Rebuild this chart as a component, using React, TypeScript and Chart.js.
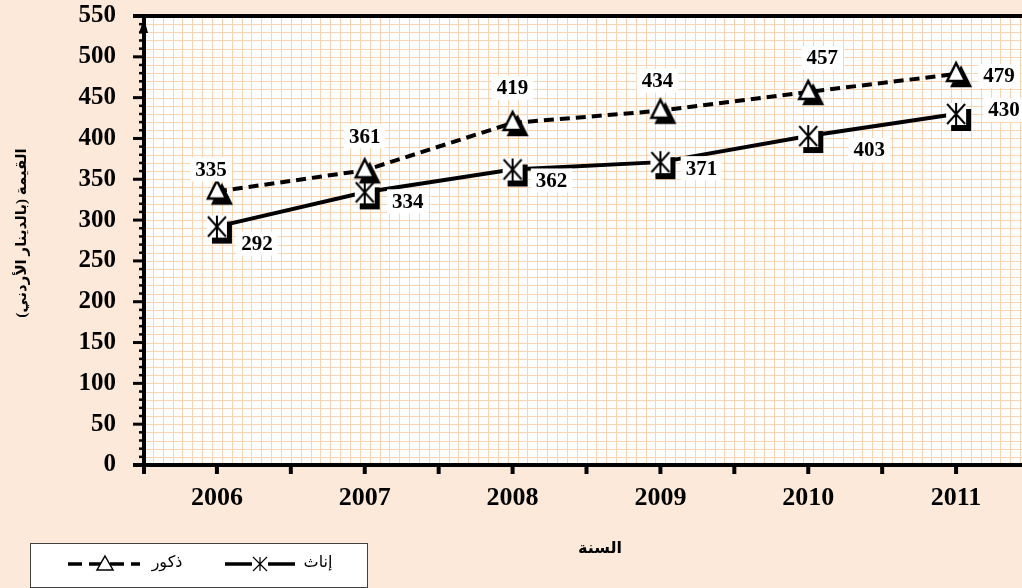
import React, { useEffect, useRef } from 'react';
import { Chart, registerables } from 'chart.js';
Chart.register(...registerables);

const years = ['2006', '2007', '2008', '2009', '2010', '2011'];
const maleValues = [335, 361, 419, 434, 457, 479];
const femaleValues = [292, 334, 362, 371, 403, 430];
const maleLabel = 'ذكور';
const femaleLabel = 'إناث';
const xTitle = 'السنة';
const yTitle = 'القيمة (بالدينار الأردني)';
const yMin = 0;
const yMax = 550;
const yMajorStep = 50;
const yMinorStep = 10;

const FONT = "'Liberation Serif', 'DejaVu Sans', serif";
const ARFONT = "'Liberation Serif', 'DejaVu Sans', serif";
const PEACH = '#FDE9D9';
const GRID = '#FBD4B4';

// label offsets (pixels, style only)
const maleLabelOffsets = [[-6, -22], [0, -34], [0, -35], [-3, -30], [14, -34], [43, 2]];
const femaleLabelOffsets = [[40, 17], [43, 9], [39, 11], [41, 6], [61, 14], [48, -4]];

function makeTriangle(): HTMLCanvasElement {
  const c = document.createElement('canvas');
  c.width = 44; c.height = 44;
  const g = c.getContext('2d')!;
  const cx = 22, cy = 22;
  const tri = (ox: number, oy: number) => {
    g.beginPath();
    g.moveTo(cx + ox, cy - 11 + oy);
    g.lineTo(cx + 9 + ox, cy + 7 + oy);
    g.lineTo(cx - 9 + ox, cy + 7 + oy);
    g.closePath();
  };
  tri(5, 5);
  g.fillStyle = '#000';
  g.fill();
  g.lineWidth = 2.5;
  g.strokeStyle = '#000';
  g.stroke();
  tri(0, 0);
  g.fillStyle = '#fff';
  g.fill();
  g.stroke();
  return c;
}

function makeAsterisk(): HTMLCanvasElement {
  const c = document.createElement('canvas');
  c.width = 44; c.height = 44;
  const g = c.getContext('2d')!;
  const cx = 22, cy = 22;
  g.fillStyle = '#000';
  g.fillRect(cx - 10 + 5, cy - 11 + 6, 20, 22);
  g.fillStyle = '#fff';
  g.fillRect(cx - 10, cy - 11, 20, 22);
  g.strokeStyle = '#000';
  g.lineWidth = 2;
  g.beginPath();
  g.moveTo(cx, cy - 11); g.lineTo(cx, cy + 11);
  g.moveTo(cx - 9, cy - 10); g.lineTo(cx + 9, cy + 10);
  g.moveTo(cx + 9, cy - 10); g.lineTo(cx - 9, cy + 10);
  g.stroke();
  return c;
}

const decorPlugin = {
  id: 'decor',
  beforeDraw(chart: any) {
    const { ctx, chartArea: a, width, height } = chart;
    const xs = chart.scales.x, ys = chart.scales.y;
    ctx.save();
    ctx.fillStyle = PEACH;
    ctx.fillRect(0, 0, width, height);
    ctx.fillStyle = '#fff';
    ctx.fillRect(a.left, a.top, a.right - a.left, a.bottom - a.top);
    ctx.strokeStyle = GRID;
    ctx.lineWidth = 1;
    ctx.beginPath();
    for (let v = yMin; v <= yMax; v += yMinorStep) {
      const py = Math.round(ys.getPixelForValue(v)) + 0.5;
      ctx.moveTo(a.left, py); ctx.lineTo(a.right, py);
    }
    for (let k = 0; ; k++) {
      const v = xs.min + k / 15;
      if (v > xs.max + 1e-6) break;
      const px = Math.round(xs.getPixelForValue(v)) + 0.5;
      ctx.moveTo(px, a.top); ctx.lineTo(px, a.bottom);
    }
    ctx.stroke();
    ctx.restore();
  },
  beforeDatasetsDraw(chart: any) {
    const { ctx, chartArea: a } = chart;
    const xs = chart.scales.x, ys = chart.scales.y;
    ctx.save();
    ctx.strokeStyle = '#000';
    ctx.fillStyle = '#000';
    ctx.lineWidth = 4;
    ctx.beginPath();
    ctx.moveTo(a.left - 10, a.top); ctx.lineTo(a.right, a.top);
    ctx.stroke();
    ctx.beginPath();
    ctx.moveTo(a.left - 10, a.bottom); ctx.lineTo(a.right, a.bottom);
    ctx.stroke();
    ctx.beginPath();
    ctx.moveTo(a.left + 1, a.top); ctx.lineTo(a.left + 1, a.bottom + 8);
    ctx.stroke();
    for (let v = yMin; v <= yMax; v += yMinorStep) {
      const py = ys.getPixelForValue(v);
      if (v % yMajorStep === 0) {
        ctx.lineWidth = 3;
        ctx.beginPath(); ctx.moveTo(a.left - 10, py); ctx.lineTo(a.left, py); ctx.stroke();
      } else {
        ctx.lineWidth = 2.5;
        ctx.beginPath(); ctx.moveTo(a.left - 4, py); ctx.lineTo(a.left, py); ctx.stroke();
      }
    }
    ctx.lineWidth = 4;
    for (let k = 0; ; k++) {
      const v = xs.min + k * 0.5;
      if (v > xs.max + 1e-6) break;
      const px = Math.max(xs.getPixelForValue(v), a.left + 1);
      ctx.beginPath(); ctx.moveTo(px, a.bottom); ctx.lineTo(px, a.bottom + 9); ctx.stroke();
    }
    ctx.beginPath();
    ctx.moveTo(a.left + 1, a.top + 2);
    ctx.lineTo(a.left + 5, a.top + 17);
    ctx.lineTo(a.left - 4, a.top + 17);
    ctx.closePath();
    ctx.fill();
    ctx.restore();
  },
  afterDatasetsDraw(chart: any) {
    const { ctx } = chart;
    ctx.save();
    ctx.font = `bold 21px ${FONT}`;
    ctx.textAlign = 'center';
    ctx.textBaseline = 'middle';
    const drawLabels = (dsIndex: number, values: number[], offs: number[][]) => {
      const meta = chart.getDatasetMeta(dsIndex);
      meta.data.forEach((pt: any, i: number) => {
        const txt = String(values[i]);
        const x = pt.x + offs[i][0];
        const y = pt.y + offs[i][1];
        const w = ctx.measureText(txt).width;
        ctx.fillStyle = '#fff';
        ctx.fillRect(x - w / 2 - 5, y - 12, w + 10, 24);
        ctx.fillStyle = '#000';
        ctx.fillText(txt, x, y + 1);
      });
    };
    drawLabels(0, maleValues, maleLabelOffsets);
    drawLabels(1, femaleValues, femaleLabelOffsets);
    ctx.restore();
  },
  afterDraw(chart: any) {
    const { ctx } = chart;
    ctx.save();
    ctx.fillStyle = '#000';
    ctx.translate(22, 233);
    ctx.rotate(-Math.PI / 2);
    ctx.direction = 'rtl';
    ctx.textAlign = 'center';
    ctx.textBaseline = 'middle';
    ctx.font = `bold 15px ${ARFONT}`;
    ctx.fillText(yTitle, 0, 0);
    ctx.restore();

    ctx.save();
    ctx.fillStyle = '#000';
    ctx.direction = 'rtl';
    ctx.textAlign = 'center';
    ctx.textBaseline = 'middle';
    ctx.font = `bold 16px ${ARFONT}`;
    ctx.fillText(xTitle, 600, 549);

    ctx.fillStyle = '#fff';
    ctx.fillRect(30.5, 543.5, 337, 44);
    ctx.strokeStyle = '#404040';
    ctx.lineWidth = 1;
    ctx.strokeRect(30.5, 543.5, 337, 44);
    const ly = 564;
    ctx.strokeStyle = '#000';
    ctx.lineWidth = 3.5;
    ctx.setLineDash([]);
    ctx.beginPath(); ctx.moveTo(225, ly); ctx.lineTo(295, ly); ctx.stroke();
    ctx.fillStyle = '#fff';
    ctx.fillRect(252, ly - 7, 16, 14);
    ctx.lineWidth = 1.2;
    ctx.beginPath();
    ctx.moveTo(260, ly - 7); ctx.lineTo(260, ly + 7);
    ctx.moveTo(253, ly - 7); ctx.lineTo(267, ly + 7);
    ctx.moveTo(267, ly - 7); ctx.lineTo(253, ly + 7);
    ctx.stroke();
    ctx.fillStyle = '#000';
    ctx.font = `16px ${ARFONT}`;
    ctx.fillText(femaleLabel, 318, ly - 1);
    ctx.lineWidth = 3.5;
    ctx.setLineDash([14, 7]);
    ctx.beginPath(); ctx.moveTo(68, ly); ctx.lineTo(140, ly); ctx.stroke();
    ctx.setLineDash([]);
    ctx.beginPath();
    ctx.moveTo(105, ly - 8); ctx.lineTo(113, ly + 6); ctx.lineTo(97, ly + 6); ctx.closePath();
    ctx.fillStyle = '#fff';
    ctx.fill();
    ctx.lineWidth = 1.5;
    ctx.stroke();
    ctx.fillStyle = '#000';
    ctx.fillText(maleLabel, 167, ly - 1);
    ctx.restore();
  },
};

export default function App() {
  const ref = useRef<HTMLCanvasElement>(null);
  useEffect(() => {
    if (!ref.current) return;
    const tri = makeTriangle();
    const ast = makeAsterisk();
    const chart = new Chart(ref.current, {
      type: 'line',
      data: {
        datasets: [
          {
            label: maleLabel,
            data: maleValues.map((v, i) => ({ x: i, y: v })),
            borderColor: '#000',
            borderWidth: 4,
            borderDash: [10, 6],
            pointStyle: tri as any,
            pointRadius: 10,
            pointHoverRadius: 10,
            tension: 0,
            fill: false,
          },
          {
            label: femaleLabel,
            data: femaleValues.map((v, i) => ({ x: i, y: v })),
            borderColor: '#000',
            borderWidth: 4,
            pointStyle: ast as any,
            pointRadius: 10,
            pointHoverRadius: 10,
            tension: 0,
            fill: false,
          },
        ],
      },
      options: {
        animation: false,
        responsive: false,
        layout: { autoPadding: false, padding: { top: 16, left: 0, right: 0, bottom: 0 } },
        plugins: { legend: { display: false }, tooltip: { enabled: false } },
        events: [],
        scales: {
          x: {
            type: 'linear',
            min: -0.5,
            max: 5.5,
            grid: { display: false, drawTicks: false },
            border: { display: false },
            afterFit: (s: any) => { s.height = 123; s.paddingLeft = 0; s.paddingRight = 0; },
            ticks: {
              stepSize: 0.5,
              autoSkip: false,
              maxRotation: 0,
              padding: 18,
              color: '#000',
              font: { family: FONT, size: 26, weight: 'bold' },
              callback: (value: any) => {
                const v = Number(value);
                const r = Math.round(v);
                return Math.abs(v - r) < 1e-6 && r >= 0 && r < years.length ? years[r] : '';
              },
            },
          },
          y: {
            type: 'linear',
            min: yMin,
            max: yMax,
            grid: { display: false, drawTicks: false },
            border: { display: false },
            afterFit: (s: any) => { s.width = 143; s.paddingTop = 0; s.paddingBottom = 0; },
            ticks: {
              stepSize: yMajorStep,
              padding: 27,
              color: '#000',
              font: { family: FONT, size: 25, weight: 'bold' },
            },
          },
        },
      },
      plugins: [decorPlugin],
    });
    return () => chart.destroy();
  }, []);
  return (
    <div style={{ position: 'fixed', left: 0, top: 0, width: 1022, height: 588, overflow: 'hidden' }}>
      <canvas ref={ref} width={1030} height={588} style={{ display: 'block' }} />
    </div>
  );
}
